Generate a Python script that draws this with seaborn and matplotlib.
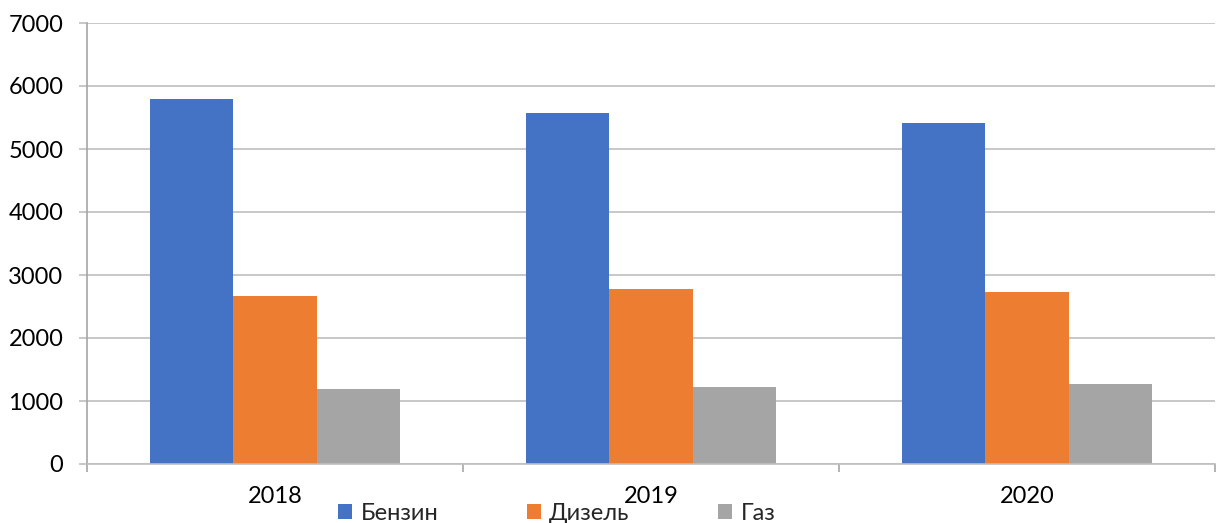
import matplotlib
matplotlib.use("Agg")
import matplotlib.pyplot as plt
from matplotlib.patches import Patch
from matplotlib.ticker import FixedLocator
import seaborn as sns
import pandas as pd

years = ["2018", "2019", "2020"]
fuels = ["Бензин", "Дизель", "Газ"]
petrol = [5800, 5570, 5420]
diesel = [2660, 2770, 2735]
gas = [1190, 1230, 1270]
colors = ["#4472C4", "#ED7D31", "#A5A5A5"]

rows = []
for fuel, vals in zip(fuels, [petrol, diesel, gas]):
    for y, v in zip(years, vals):
        rows.append({"year": y, "fuel": fuel, "value": v})
df = pd.DataFrame(rows)

sns.set_theme(style="white")
plt.rcParams["font.family"] = ["Lato", "Open Sans", "DejaVu Sans"]

fig = plt.figure(figsize=(12.22, 5.23), dpi=100)
ax = fig.add_axes([87 / 1222, 1 - 464 / 523, (1215 - 87) / 1222, (464 - 23) / 523])

sns.barplot(data=df, x="year", y="value", hue="fuel", hue_order=fuels,
            palette=colors, saturation=1, width=0.665, gap=0,
            linewidth=0, ax=ax, legend=False)

ax.set_ylim(0, 7000)
ax.set_xlim(-0.5, 2.5)
ax.set_yticks(range(0, 7001, 1000))
ax.yaxis.grid(True, color="#BFBFBF", linewidth=1.2)
ax.set_axisbelow(True)
ax.set_xlabel("")
ax.set_ylabel("")

for side in ["top", "right"]:
    ax.spines[side].set_visible(False)
ax.spines["left"].set_color("#A6A6A6")
ax.spines["bottom"].set_color("#BFBFBF")
ax.spines["left"].set_linewidth(1.2)
ax.spines["bottom"].set_linewidth(1.2)

ax.tick_params(axis="y", which="major", length=6, width=1.2, color="#BFBFBF",
               pad=11, labelsize=17, labelcolor="#000000", left=True)
ax.tick_params(axis="x", which="major", length=0, pad=16, labelsize=17,
               labelcolor="#000000")
ax.xaxis.set_minor_locator(FixedLocator([-0.5, 0.5, 1.5, 2.5]))
ax.tick_params(axis="x", which="minor", length=6, width=1.2, color="#A6A6A6",
               bottom=True)

handles = [Patch(facecolor=c, edgecolor="none") for c in colors]
fig.legend(handles, fuels, loc="center left", bbox_to_anchor=(338 / 1222, 1 - 513 / 523),
           ncol=3, frameon=False, fontsize=17, handlelength=0.6, handleheight=0.6,
           handletextpad=0.35, columnspacing=3.75, borderpad=0, borderaxespad=0)

fig.savefig("out.png", dpi=100)
